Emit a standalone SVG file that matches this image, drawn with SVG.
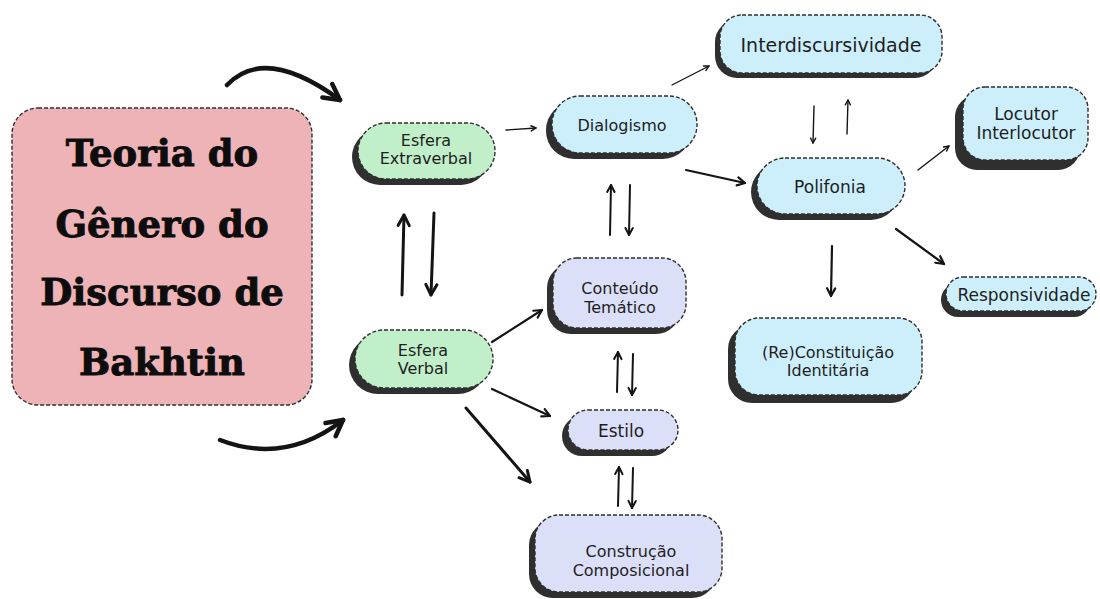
<svg xmlns="http://www.w3.org/2000/svg" width="1100" height="599" viewBox="0 0 1100 599">
  <style>
    .shadow { fill: #2f2f2f; }
    .box { stroke: #2f2f2f; stroke-width: 1.4; stroke-dasharray: 4 2; }
    .green { fill: #c0efc9; }
    .blue { fill: #cdeefb; }
    .lilac { fill: #dcdff8; }
    .pink { fill: #eeb3b7; }
    .lbl { font-family: "DejaVu Sans", "Liberation Sans", sans-serif; fill: #1e1e1e; text-anchor: middle; }
    .title { font-family: "DejaVu Serif", "Liberation Serif", serif; font-weight: bold; fill: #0d0d0d; stroke: #0d0d0d; stroke-width: 0.9; text-anchor: middle; }
    .arrow { fill: none; stroke: #141414; stroke-linecap: round; marker-end: url(#head); }
  </style>
  <defs>
    <marker id="head" viewBox="0 0 10 10" refX="9" refY="5" markerWidth="5" markerHeight="5" orient="auto" overflow="visible">
      <path d="M2,1.3 L9,5 L2,8.7" fill="none" stroke="#141414" stroke-width="2" stroke-linecap="round" stroke-linejoin="round"/>
    </marker>
  </defs>
  <rect width="1100" height="599" fill="#ffffff"/>

  <!-- central theme -->
  <g id="teoria">
    <rect class="box pink" x="12" y="108" width="300" height="297" rx="26"/>
    <text class="title" font-size="37" x="162" y="166">Teoria do</text>
    <text class="title" font-size="37" x="162" y="237">Gênero do</text>
    <text class="title" font-size="37" x="162" y="305">Discurso de</text>
    <text class="title" font-size="37" x="162" y="375">Bakhtin</text>
  </g>

  <g id="esfera-extraverbal">
    <rect class="shadow" x="352" y="129" width="137" height="56" rx="28"/>
    <rect class="box green" x="358" y="123" width="137" height="56" rx="28"/>
    <text class="lbl" font-size="16" x="426" y="146">Esfera</text>
    <text class="lbl" font-size="16" x="426" y="164">Extraverbal</text>
  </g>

  <g id="esfera-verbal">
    <rect class="shadow" x="349" y="336" width="138" height="58" rx="29"/>
    <rect class="box green" x="355" y="330" width="138" height="58" rx="29"/>
    <text class="lbl" font-size="16" x="423" y="356">Esfera</text>
    <text class="lbl" font-size="16" x="423" y="374">Verbal</text>
  </g>

  <g id="dialogismo">
    <rect class="shadow" x="546" y="102" width="145" height="57" rx="28"/>
    <rect class="box blue" x="552" y="96" width="145" height="57" rx="28"/>
    <text class="lbl" font-size="16" x="622" y="131">Dialogismo</text>
  </g>

  <g id="interdiscursividade">
    <rect class="shadow" x="715" y="20" width="222" height="58" rx="22"/>
    <rect class="box blue" x="720" y="15" width="222" height="58" rx="22"/>
    <text class="lbl" font-size="19" x="831" y="52">Interdiscursividade</text>
  </g>

  <g id="polifonia">
    <rect class="shadow" x="751" y="164" width="148" height="56" rx="28"/>
    <rect class="box blue" x="757" y="158" width="148" height="56" rx="28"/>
    <text class="lbl" font-size="17" x="830" y="193">Polifonia</text>
  </g>

  <g id="locutor">
    <rect class="shadow" x="955" y="95" width="125" height="75" rx="22"/>
    <rect class="box blue" x="963" y="87" width="125" height="73" rx="22"/>
    <text class="lbl" font-size="17" x="1026" y="120">Locutor</text>
    <text class="lbl" font-size="17" x="1026" y="139">Interlocutor</text>
  </g>

  <g id="responsividade">
    <rect class="shadow" x="941" y="283" width="150" height="34" rx="17"/>
    <rect class="box blue" x="946" y="277" width="150" height="34" rx="17"/>
    <text class="lbl" font-size="17" x="1024" y="301">Responsividade</text>
  </g>

  <g id="reconstituicao">
    <rect class="shadow" x="728" y="325" width="187" height="78" rx="24"/>
    <rect class="box blue" x="735" y="318" width="187" height="77" rx="24"/>
    <text class="lbl" font-size="16" x="828" y="358">(Re)Constituição</text>
    <text class="lbl" font-size="16" x="828" y="376">Identitária</text>
  </g>

  <g id="conteudo">
    <rect class="shadow" x="547" y="264" width="133" height="70" rx="24"/>
    <rect class="box lilac" x="553" y="258" width="133" height="70" rx="24"/>
    <text class="lbl" font-size="16" x="620" y="294">Conteúdo</text>
    <text class="lbl" font-size="16" x="620" y="313">Temático</text>
  </g>

  <g id="estilo">
    <rect class="shadow" x="562" y="416" width="110" height="40" rx="20"/>
    <rect class="box lilac" x="568" y="410" width="110" height="40" rx="20"/>
    <text class="lbl" font-size="17" x="621" y="437">Estilo</text>
  </g>

  <g id="construcao">
    <rect class="shadow" x="529" y="521" width="187" height="77" rx="24"/>
    <rect class="box lilac" x="535" y="515" width="187" height="77" rx="24"/>
    <text class="lbl" font-size="16" x="631" y="557">Construção</text>
    <text class="lbl" font-size="16" x="631" y="576">Composicional</text>
  </g>

  <g id="connectors">
    <!-- sweeping arrows from the theme box -->
    <path class="arrow" stroke-width="4.5" d="M227,85 Q265,45 340,100"/>
    <path class="arrow" stroke-width="4.5" d="M220,440 Q285,465 343,420"/>
    <!-- extraverbal / verbal pair -->
    <path class="arrow" stroke-width="3" d="M402,295 L404,215"/>
    <path class="arrow" stroke-width="3" d="M434,213 L431,295"/>
    <!-- extraverbal to dialogismo -->
    <path class="arrow" stroke-width="1.4" d="M506,130 L536,128"/>
    <!-- dialogismo branches -->
    <path class="arrow" stroke-width="1.4" d="M672,85 L709,66"/>
    <path class="arrow" stroke-width="2.2" d="M686,170 L745,183"/>
    <!-- interdiscursividade / polifonia pair -->
    <path class="arrow" stroke-width="1.4" d="M814,106 L813,143"/>
    <path class="arrow" stroke-width="1.4" d="M847,134 L848,100"/>
    <!-- polifonia branches -->
    <path class="arrow" stroke-width="1.4" d="M918,170 L949,146"/>
    <path class="arrow" stroke-width="2.2" d="M896,229 L944,264"/>
    <path class="arrow" stroke-width="2.2" d="M832,246 L831,296"/>
    <!-- dialogismo / conteudo pair -->
    <path class="arrow" stroke-width="2" d="M610,235 L611,185"/>
    <path class="arrow" stroke-width="2" d="M630,185 L629,235"/>
    <!-- esfera verbal branches -->
    <path class="arrow" stroke-width="2.2" d="M492,342 L542,310"/>
    <path class="arrow" stroke-width="2.2" d="M492,389 L550,416"/>
    <path class="arrow" stroke-width="3" d="M466,408 L530,482"/>
    <!-- conteudo / estilo pair -->
    <path class="arrow" stroke-width="2" d="M617,392 L618,352"/>
    <path class="arrow" stroke-width="2" d="M633,354 L632,395"/>
    <!-- estilo / construcao pair -->
    <path class="arrow" stroke-width="2" d="M618,506 L619,467"/>
    <path class="arrow" stroke-width="2" d="M633,468 L632,508"/>
  </g>
</svg>
